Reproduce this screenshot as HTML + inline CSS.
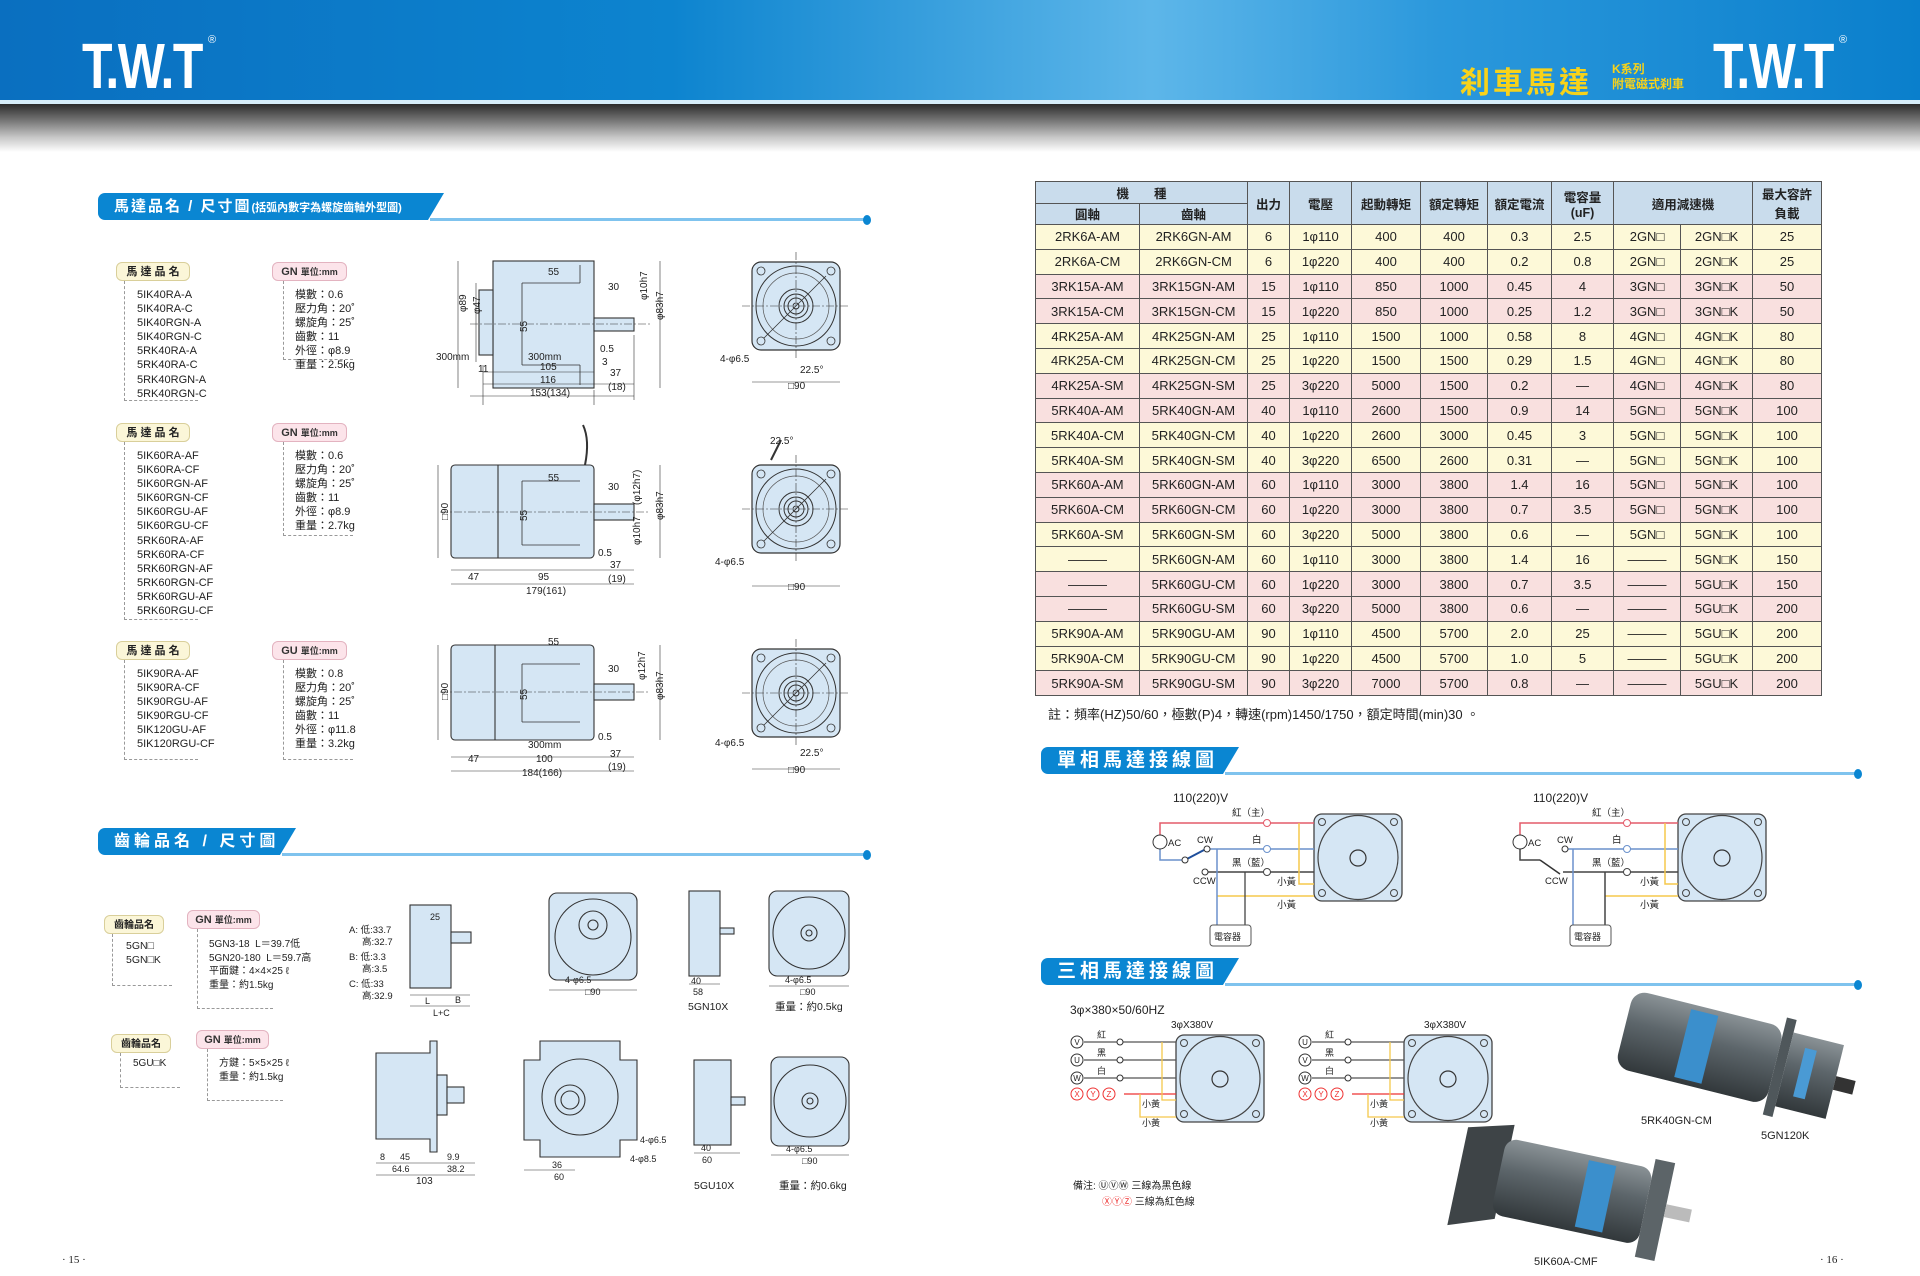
<!DOCTYPE html>
<html><head><meta charset="utf-8">
<style>
*{margin:0;padding:0;box-sizing:border-box}
body{width:1920px;height:1276px;position:relative;background:#fff;font-family:"Liberation Sans","Noto Sans CJK TC",sans-serif;overflow:hidden;color:#222}
.abs{position:absolute}
.banner{left:0;top:0;width:1920px;height:100px;background:linear-gradient(90deg,#0a6fc0 0%,#0d84cf 35%,#5db6e9 60%,#2b98dc 75%,#0a7fcc 100%)}
.bline{left:0;top:100px;width:1920px;height:4px;background:#d7eefa}
.grad{left:0;top:104px;width:1920px;height:48px;background:linear-gradient(180deg,#2c2c2c 0%,#777 35%,#c8c8c8 70%,#fff 100%)}
.logo{font-family:"Liberation Sans",sans-serif;font-weight:bold;color:#fff;font-size:64px;letter-spacing:-2px;transform:scaleX(0.78);transform-origin:left;line-height:64px}
.tag{border-radius:6px;font-size:11px;font-weight:bold;padding:2px 0;text-align:center;height:19px;line-height:15px}
.ty{background:#fbf6d8;border:1px solid #d9cf9a}
.tp{background:#fce4ea;border:1px solid #e3b3c0;color:#333}
.lst{font-size:11px;line-height:14.1px;color:#222}
.dash{border-left:1px dashed #999;border-bottom:1px dashed #999}
table{border-collapse:collapse;position:absolute;left:1035px;top:181px;width:786px;font-size:13px;table-layout:fixed}
td,th{border:1px solid #555;text-align:center;height:24.8px;padding:0;white-space:nowrap}
th{background:#c9dcec;font-weight:bold;font-size:12.5px;height:21.5px}
tr.y td{background:#fdf9d8}
tr.p td{background:#f9e0df}
.sec{height:27px;background:#0a86d2;color:#fff;font-weight:bold;font-size:17px;letter-spacing:4px;border-radius:7px 0 0 7px;padding-left:16px;line-height:27px}
.sec:after{content:"";position:absolute;right:-16px;top:0;border-left:16px solid #0a86d2;border-bottom:27px solid transparent}
.sl{height:3px;background:#7fc3ee}
.dot{width:8px;height:10px;border-radius:50%;background:#0a86d2}
</style></head><body>
<div class="abs banner"></div>
<div class="abs bline"></div>
<div class="abs grad"></div>
<div class="abs logo" style="left:82px;top:34px">T.W.T</div>
<div class="abs" style="left:208px;top:34px;color:#fff;font-size:11px">®</div>
<div class="abs logo" style="left:1713px;top:34px">T.W.T</div>
<div class="abs" style="left:1839px;top:34px;color:#fff;font-size:11px">®</div>
<div class="abs" style="left:1460px;top:58px;color:#f7d21a;font-size:30px;font-weight:bold;letter-spacing:3px">刹車馬達</div>
<div class="abs" style="left:1612px;top:62px;color:#f7d21a;font-size:12px;line-height:15px;font-weight:bold">K系列<br>附電磁式刹車</div>

<div class="abs sec" style="left:98px;top:193px;width:330px;font-size:15px;letter-spacing:2px">馬達品名 / 尺寸圖<span style="font-size:11px;letter-spacing:0">(括弧內數字為螺旋齒軸外型圖)</span></div>
<div class="abs sl" style="left:430px;top:218px;width:437px"></div>
<div class="abs dot" style="left:863px;top:215px"></div>
<div class="abs sec" style="left:98px;top:828px;width:182px;font-size:16px">齒輪品名 / 尺寸圖</div>
<div class="abs sl" style="left:282px;top:853px;width:585px"></div>
<div class="abs dot" style="left:863px;top:850px"></div>
<div class="abs sec" style="left:1041px;top:747px;width:182px;font-size:19px">單相馬達接線圖</div>
<div class="abs sl" style="left:1225px;top:772px;width:633px"></div>
<div class="abs dot" style="left:1854px;top:769px"></div>
<div class="abs sec" style="left:1041px;top:958px;width:182px;font-size:19px">三相馬達接線圖</div>
<div class="abs sl" style="left:1225px;top:983px;width:633px"></div>
<div class="abs dot" style="left:1854px;top:980px"></div>

<div class="abs tag ty" style="left:116px;top:262px;width:74px">馬 達 品 名</div>
<div class="abs tag tp" style="left:272px;top:262px;width:75px">GN <span style="font-size:9px">單位:mm</span></div>
<div class="abs dash" style="left:124px;top:281px;width:74px;height:120px"></div>
<div class="abs dash" style="left:283px;top:281px;width:70px;height:79px"></div>
<div class="abs lst" style="left:137px;top:288px">5IK40RA-A<br>5IK40RA-C<br>5IK40RGN-A<br>5IK40RGN-C<br>5RK40RA-A<br>5RK40RA-C<br>5RK40RGN-A<br>5RK40RGN-C</div>
<div class="abs lst" style="left:295px;top:288px">模數：0.6<br>壓力角：20˚<br>螺旋角：25˚<br>齒數：11<br>外徑：φ8.9<br>重量：2.5kg</div>

<div class="abs tag ty" style="left:116px;top:423px;width:74px">馬 達 品 名</div>
<div class="abs tag tp" style="left:272px;top:423px;width:75px">GN <span style="font-size:9px">單位:mm</span></div>
<div class="abs dash" style="left:124px;top:442px;width:74px;height:178px"></div>
<div class="abs dash" style="left:283px;top:442px;width:70px;height:94px"></div>
<div class="abs lst" style="left:137px;top:449px">5IK60RA-AF<br>5IK60RA-CF<br>5IK60RGN-AF<br>5IK60RGN-CF<br>5IK60RGU-AF<br>5IK60RGU-CF<br>5RK60RA-AF<br>5RK60RA-CF<br>5RK60RGN-AF<br>5RK60RGN-CF<br>5RK60RGU-AF<br>5RK60RGU-CF</div>
<div class="abs lst" style="left:295px;top:449px">模數：0.6<br>壓力角：20˚<br>螺旋角：25˚<br>齒數：11<br>外徑：φ8.9<br>重量：2.7kg</div>

<div class="abs tag ty" style="left:116px;top:641px;width:74px">馬 達 品 名</div>
<div class="abs tag tp" style="left:272px;top:641px;width:75px">GU <span style="font-size:9px">單位:mm</span></div>
<div class="abs dash" style="left:124px;top:660px;width:74px;height:100px"></div>
<div class="abs dash" style="left:283px;top:660px;width:70px;height:100px"></div>
<div class="abs lst" style="left:137px;top:667px">5IK90RA-AF<br>5IK90RA-CF<br>5IK90RGU-AF<br>5IK90RGU-CF<br>5IK120GU-AF<br>5IK120RGU-CF</div>
<div class="abs lst" style="left:295px;top:667px">模數：0.8<br>壓力角：20˚<br>螺旋角：25˚<br>齒數：11<br>外徑：φ11.8<br>重量：3.2kg</div>

<div class="abs tag ty" style="left:104px;top:915px;width:60px;font-size:10px">齒輪品名</div>
<div class="abs tag tp" style="left:187px;top:910px;width:73px">GN <span style="font-size:9px">單位:mm</span></div>
<div class="abs dash" style="left:112px;top:934px;width:60px;height:52px"></div>
<div class="abs dash" style="left:197px;top:929px;width:76px;height:80px"></div>
<div class="abs lst" style="left:126px;top:939px;font-size:10.5px">5GN□<br>5GN□K</div>
<div class="abs lst" style="left:209px;top:938px;font-size:10px;line-height:13.5px">5GN3-18 &nbsp;L＝39.7低<br>5GN20-180 &nbsp;L＝59.7高<br>平面鍵：4×4×25 ℓ<br>重量：約1.5kg</div>
<div class="abs tag ty" style="left:111px;top:1034px;width:60px;font-size:10px">齒輪品名</div>
<div class="abs tag tp" style="left:196px;top:1030px;width:73px">GN <span style="font-size:9px">單位:mm</span></div>
<div class="abs dash" style="left:120px;top:1053px;width:60px;height:35px"></div>
<div class="abs dash" style="left:207px;top:1049px;width:76px;height:52px"></div>
<div class="abs lst" style="left:133px;top:1057px;font-size:10px">5GU□K</div>
<div class="abs lst" style="left:219px;top:1057px;font-size:10px;line-height:14px">方鍵：5×5×25 ℓ<br>重量：約1.5kg</div>

<svg class="abs" style="left:0;top:0" width="1920" height="1276" font-family="Liberation Sans, Noto Sans CJK TC, sans-serif" font-size="10" fill="#222">
<defs>
<g id="fv">
 <rect x="-44" y="-44" width="88" height="88" rx="9" fill="#d5e6f4" stroke="#333" stroke-width="1.2"/>
 <circle r="40" fill="none" stroke="#333"/>
 <circle r="33" fill="none" stroke="#555" stroke-width=".7"/>
 <circle r="17" fill="none" stroke="#333"/>
 <circle r="12" fill="none" stroke="#333"/>
 <circle r="8" fill="none" stroke="#333"/>
 <circle r="3" fill="none" stroke="#333"/>
 <line x1="-54" y1="0" x2="54" y2="0" stroke="#333" stroke-width=".6" stroke-dasharray="8 2 2 2"/>
 <line x1="0" y1="-54" x2="0" y2="54" stroke="#333" stroke-width=".6" stroke-dasharray="8 2 2 2"/>
 <g stroke="#333" fill="none" stroke-width=".8">
  <circle cx="-35" cy="-35" r="4"/><circle cx="35" cy="-35" r="4"/><circle cx="-35" cy="35" r="4"/><circle cx="35" cy="35" r="4"/>
  <line x1="-32" y1="32" x2="30" y2="-30"/>
 </g>
</g>
<g id="wm">
 <rect x="0" y="0" width="88" height="87" rx="8" fill="#d5e6f4" stroke="#444" stroke-width="1.3"/>
 <ellipse cx="44" cy="43.5" rx="40" ry="42" fill="none" stroke="#444" stroke-width="1.2"/>
 <circle cx="44" cy="44" r="8" fill="none" stroke="#333" stroke-width="1.2"/>
 <g fill="none" stroke="#444"><circle cx="8" cy="8" r="3.5"/><circle cx="80" cy="8" r="3.5"/><circle cx="8" cy="79" r="3.5"/><circle cx="80" cy="79" r="3.5"/></g>
</g>
<linearGradient id="mg" x1="0" y1="0" x2="0" y2="1"><stop offset="0" stop-color="#8a9296"/><stop offset=".4" stop-color="#5d666b"/><stop offset="1" stop-color="#32383b"/></linearGradient>
</defs>

<g stroke="#333" stroke-width="1.1">
<rect x="493" y="261" width="101" height="127" fill="#d5e6f4"/>
<rect x="479" y="290" width="14" height="65" fill="#d5e6f4"/>
<rect x="594" y="318" width="40" height="13" fill="#d5e6f4"/>
<path d="M522 283 H580 M522 283 V365 M522 365 H580 M580 265V283 M580 365V385" fill="none" stroke-width=".8"/>
<line x1="470" y1="324" x2="650" y2="324" stroke-width=".6" stroke-dasharray="8 2 2 2"/>
<path d="M458 261V388 M476 283V362 M483 365V405 M594 390V405 M634 335V400 M660 261V388" fill="none" stroke-width=".6"/>
<path d="M483 372H594 M483 384H634 M470 396H634 M600 384H634" stroke-width=".6"/>
</g>
<g font-size="10">
<text x="548" y="275">55</text><text x="608" y="290">30</text><text x="540" y="370">105</text><text x="540" y="383">116</text><text x="530" y="396">153(134)</text>
<text x="610" y="376">37</text><text x="608" y="390">(18)</text><text x="600" y="352">0.5</text><text x="602" y="365">3</text>
<text x="436" y="360">300mm</text><text x="528" y="360">300mm</text><text x="478" y="372">11</text>
<text transform="translate(466 312) rotate(-90)">φ89</text><text transform="translate(480 314) rotate(-90)">φ47</text>
<text transform="translate(527 332) rotate(-90)">55</text>
<text transform="translate(647 300) rotate(-90)">φ10h7</text><text transform="translate(663 320) rotate(-90)">φ83h7</text>
</g>
<use href="#fv" x="796" y="306"/>
<text x="720" y="362">4-φ6.5</text><text x="800" y="373">22.5°</text><text x="788" y="389">□90</text>
<path d="M752 382H840" stroke="#333" stroke-width=".6"/>

<g stroke="#333" stroke-width="1.1">
<rect x="451" y="465" width="143" height="93" rx="4" fill="#d5e6f4"/>
<line x1="498" y1="465" x2="498" y2="558"/>
<rect x="594" y="504" width="40" height="16" fill="#d5e6f4"/>
<path d="M522 481 H580 M522 481 V545 M522 545 H580" fill="none" stroke-width=".8"/>
<line x1="440" y1="512" x2="650" y2="512" stroke-width=".6" stroke-dasharray="8 2 2 2"/>
<path d="M438 465V558 M451 570H634 M451 584H634 M660 465V558" fill="none" stroke-width=".6"/>
<path d="M585 465 Q590 440 583 425" fill="none" stroke-width="2"/>
</g>
<text x="468" y="580">47</text><text x="538" y="580">95</text><text x="526" y="594">179(161)</text><text x="610" y="568">37</text><text x="608" y="582">(19)</text>
<text x="598" y="556">0.5</text><text x="608" y="490">30</text><text x="548" y="481">55</text>
<text transform="translate(448 520) rotate(-90)">□90</text><text transform="translate(527 521) rotate(-90)">55</text>
<text transform="translate(640 505) rotate(-90)">(φ12h7)</text><text transform="translate(663 520) rotate(-90)">φ83h7</text><text transform="translate(640 545) rotate(-90)">φ10h7</text>
<use href="#fv" x="796" y="509"/>
<path d="M771 460 L781 440" stroke="#333" stroke-width="2"/>
<text x="770" y="444">22.5°</text><text x="715" y="565">4-φ6.5</text><text x="788" y="590">□90</text>
<path d="M752 586H840" stroke="#333" stroke-width=".6"/>

<g stroke="#333" stroke-width="1.1">
<rect x="451" y="645" width="143" height="95" rx="4" fill="#d5e6f4"/>
<line x1="495" y1="645" x2="495" y2="740"/>
<rect x="594" y="684" width="40" height="16" fill="#d5e6f4"/>
<path d="M522 664 H580 M522 664 V722 M522 722 H580" fill="none" stroke-width=".8"/>
<line x1="440" y1="692" x2="650" y2="692" stroke-width=".6" stroke-dasharray="8 2 2 2"/>
<path d="M438 645V740 M451 757H634 M451 771H634 M660 645V740" fill="none" stroke-width=".6"/>
</g>
<text x="548" y="645">55</text><text x="608" y="672">30</text><text x="468" y="762">47</text><text x="536" y="762">100</text><text x="522" y="776">184(166)</text>
<text x="610" y="757">37</text><text x="608" y="770">(19)</text><text x="528" y="748">300mm</text><text x="598" y="740">0.5</text>
<text transform="translate(448 700) rotate(-90)">□90</text><text transform="translate(527 700) rotate(-90)">55</text>
<text transform="translate(645 680) rotate(-90)">φ12h7</text><text transform="translate(663 700) rotate(-90)">φ83h7</text>
<use href="#fv" x="796" y="693"/>
<text x="715" y="746">4-φ6.5</text><text x="800" y="756">22.5°</text><text x="788" y="773">□90</text>
<path d="M752 769H840" stroke="#333" stroke-width=".6"/>

<g font-size="9.5">
<text x="349" y="933">A: 低:33.7</text><text x="362" y="945">高:32.7</text>
<text x="349" y="960">B: 低:3.3</text><text x="362" y="972">高:3.5</text>
<text x="349" y="987">C: 低:33</text><text x="362" y="999">高:32.9</text>
</g>
<g stroke="#333" stroke-width="1.1">
<rect x="410" y="905" width="41" height="83" fill="#d5e6f4"/>
<rect x="451" y="932" width="20" height="11" fill="#d5e6f4"/>
<path d="M410 995H470 M410 1006H470" stroke-width=".6"/>
<rect x="549" y="893" width="88" height="87" rx="8" fill="#d5e6f4"/>
<circle cx="593" cy="937" r="38" fill="none"/><circle cx="593" cy="925" r="14" fill="none"/><circle cx="593" cy="925" r="5" fill="none"/>
<path d="M549 990H637" stroke-width=".6"/>
<rect x="689" y="891" width="31" height="85" fill="#d5e6f4"/>
<rect x="720" y="928" width="14" height="6" fill="#d5e6f4"/>
<rect x="769" y="891" width="80" height="85" rx="8" fill="#d5e6f4"/>
<circle cx="809" cy="933" r="36" fill="none"/><circle cx="809" cy="933" r="8" fill="none"/><circle cx="809" cy="933" r="3" fill="none"/>
<path d="M769 986H849 M689 984H720" stroke-width=".6"/>
</g>
<text x="430" y="920" font-size="9">25</text><text x="455" y="1003" font-size="9">B</text><text x="425" y="1004" font-size="9">L</text><text x="433" y="1016" font-size="9">L+C</text>
<text x="565" y="983" font-size="9">4-φ6.5</text><text x="585" y="995" font-size="9">□90</text>
<text x="691" y="984" font-size="9">40</text><text x="693" y="995" font-size="9">58</text><text x="785" y="983" font-size="9">4-φ6.5</text><text x="800" y="995" font-size="9">□90</text>
<text x="688" y="1010" font-size="10.5">5GN10X</text><text x="775" y="1010" font-size="10.5">重量：約0.5kg</text>

<g stroke="#333" stroke-width="1.1">
<path d="M376 1053H430V1041H437V1152H430V1139H376Z" fill="#d5e6f4"/>
<rect x="437" y="1075" width="10" height="40" fill="#d5e6f4"/>
<rect x="447" y="1087" width="17" height="16" fill="#d5e6f4"/>
<path d="M540 1041H620V1060H637V1140H620V1157H540V1140H524V1060H540Z" fill="#d5e6f4"/>
<circle cx="580" cy="1097" r="38" fill="none"/><circle cx="570" cy="1100" r="15" fill="none"/><circle cx="570" cy="1100" r="9" fill="none"/>
<rect x="694" y="1060" width="37" height="85" fill="#d5e6f4"/>
<rect x="731" y="1097" width="14" height="8" fill="#d5e6f4"/>
<rect x="771" y="1057" width="78" height="89" rx="8" fill="#d5e6f4"/>
<circle cx="810" cy="1101" r="36" fill="none"/><circle cx="810" cy="1101" r="8" fill="none"/><circle cx="810" cy="1101" r="3" fill="none"/>
<path d="M376 1163H475 M376 1175H475 M524 1170H575 M694 1153H740 M771 1155H849" stroke-width=".6"/>
</g>
<g font-size="9"><text x="380" y="1160">8</text><text x="400" y="1160">45</text><text x="447" y="1160">9.9</text><text x="392" y="1172">64.6</text><text x="447" y="1172">38.2</text>
<text x="416" y="1184" font-size="10">103</text><text x="552" y="1168">36</text><text x="554" y="1180">60</text><text x="640" y="1143">4-φ6.5</text><text x="630" y="1162">4-φ8.5</text>
<text x="701" y="1151">40</text><text x="702" y="1163">60</text><text x="786" y="1152">4-φ6.5</text><text x="802" y="1164">□90</text></g>
<text x="694" y="1189" font-size="10.5">5GU10X</text><text x="779" y="1189" font-size="10.5">重量：約0.6kg</text>

<text x="62" y="1263" font-size="11" font-family="Liberation Serif">· 15 ·</text>
<text x="1820" y="1263" font-size="11" font-family="Liberation Serif">· 16 ·</text>

<g>
<text x="1173" y="802" font-size="12">110(220)V</text>
<use href="#wm" x="1314" y="814"/>
<g fill="none" stroke-width="1.5">
<path d="M1160 836V823H1314" stroke="#e45b6a"/>
<path d="M1207 849H1314 M1160 848V860H1185" stroke="#6a91cc"/>
<path d="M1205 872H1314" stroke="#444"/>
<path d="M1299 823V884H1314 M1217 896H1314" stroke="#f5c84c"/>
<path d="M1217 849V925" stroke="#6a91cc"/>
</g>
<path d="M1245 872V925" stroke="#444" stroke-width="1.3"/>
<path d="M1185 860L1204 850" stroke="#1f4f9c" stroke-width="2"/>
<circle cx="1160" cy="842" r="7" fill="#fff" stroke="#333"/>
<circle cx="1185" cy="860" r="3" fill="#fff" stroke="#333"/><circle cx="1207" cy="849" r="3" fill="#fff" stroke="#333"/><circle cx="1205" cy="872" r="3" fill="#fff" stroke="#333"/>
<circle cx="1267" cy="823" r="3.5" fill="#fff" stroke="#e45b6a"/><circle cx="1267" cy="849" r="3.5" fill="#fff" stroke="#6a91cc"/><circle cx="1267" cy="872" r="3.5" fill="#fff" stroke="#444"/>
<rect x="1210" y="925" width="41" height="21" rx="3" fill="#fff" stroke="#555"/>
<text x="1214" y="940" font-size="9">電容器</text>
<g font-size="9.5"><text x="1168" y="846">AC</text><text x="1197" y="843">CW</text><text x="1193" y="884">CCW</text><text x="1232" y="816">紅（主）</text><text x="1252" y="843">白</text><text x="1232" y="866">黑（藍）</text><text x="1277" y="885">小黃</text><text x="1277" y="908">小黃</text></g>
</g>
<g transform="translate(360 0)">
<text x="1173" y="802" font-size="12">110(220)V</text>
<use href="#wm" x="1318" y="814"/>
<g fill="none" stroke-width="1.5">
<path d="M1160 836V823H1318" stroke="#e45b6a"/>
<path d="M1207 849H1318" stroke="#6a91cc"/>
<path d="M1203 872H1318 M1160 848V860H1180" stroke="#444"/>
<path d="M1305 823V884H1318 M1245 896H1318" stroke="#f5c84c"/>
<path d="M1213 849V925" stroke="#6a91cc"/>
<path d="M1245 872V925" stroke="#444"/>
</g>
<path d="M1180 860L1200 874" stroke="#333" stroke-width="1.5"/>
<circle cx="1160" cy="842" r="7" fill="#fff" stroke="#333"/>
<circle cx="1205" cy="849" r="3" fill="#fff" stroke="#333"/>
<circle cx="1267" cy="823" r="3.5" fill="#fff" stroke="#e45b6a"/><circle cx="1267" cy="849" r="3.5" fill="#fff" stroke="#6a91cc"/><circle cx="1267" cy="872" r="3.5" fill="#fff" stroke="#444"/>
<rect x="1210" y="925" width="41" height="21" rx="3" fill="#fff" stroke="#555"/>
<text x="1214" y="940" font-size="9">電容器</text>
<g font-size="9.5"><text x="1168" y="846">AC</text><text x="1197" y="843">CW</text><text x="1185" y="884">CCW</text><text x="1232" y="816">紅（主）</text><text x="1252" y="843">白</text><text x="1232" y="866">黑（藍）</text><text x="1280" y="885">小黃</text><text x="1280" y="908">小黃</text></g>
</g>

<text x="1070" y="1014" font-size="12">3φ×380×50/60HZ</text>
<g>
<text x="1171" y="1028" font-size="10">3φX380V</text>
<use href="#wm" x="1176" y="1035"/>
<g fill="none" stroke-width="1.3"><path d="M1084 1042H1176 M1084 1060H1176 M1084 1078H1176" stroke="#555"/><path d="M1124 1094H1176" stroke="#e33"/><path d="M1162 1042V1100H1176 M1140 1094V1117H1176" stroke="#f5c84c"/></g>
<g fill="#fff" stroke="#333"><circle cx="1077" cy="1042" r="6"/><circle cx="1077" cy="1060" r="6"/><circle cx="1077" cy="1078" r="6"/><circle cx="1120" cy="1042" r="3"/><circle cx="1120" cy="1060" r="3"/><circle cx="1120" cy="1078" r="3"/></g>
<g fill="#fff" stroke="#e33"><circle cx="1077" cy="1094" r="6"/><circle cx="1093" cy="1094" r="6"/><circle cx="1109" cy="1094" r="6"/></g>
<g font-size="8" text-anchor="middle"><text x="1077" y="1045">V</text><text x="1077" y="1063">U</text><text x="1077" y="1081">W</text><text x="1077" y="1097" fill="#e33">X</text><text x="1093" y="1097" fill="#e33">Y</text><text x="1109" y="1097" fill="#e33">Z</text></g>
<g font-size="9"><text x="1097" y="1038">紅</text><text x="1097" y="1056">黑</text><text x="1097" y="1074">白</text><text x="1142" y="1107">小黃</text><text x="1142" y="1126">小黃</text></g>
</g>
<g transform="translate(228 0)">
<text x="1196" y="1028" font-size="10">3φX380V</text>
<use href="#wm" x="1176" y="1035"/>
<g fill="none" stroke-width="1.3"><path d="M1084 1042H1176 M1084 1060H1176 M1084 1078H1176" stroke="#555"/><path d="M1124 1094H1176" stroke="#e33"/><path d="M1162 1042V1100H1176 M1140 1094V1117H1176" stroke="#f5c84c"/></g>
<g fill="#fff" stroke="#333"><circle cx="1077" cy="1042" r="6"/><circle cx="1077" cy="1060" r="6"/><circle cx="1077" cy="1078" r="6"/><circle cx="1120" cy="1042" r="3"/><circle cx="1120" cy="1060" r="3"/><circle cx="1120" cy="1078" r="3"/></g>
<g fill="#fff" stroke="#e33"><circle cx="1077" cy="1094" r="6"/><circle cx="1093" cy="1094" r="6"/><circle cx="1109" cy="1094" r="6"/></g>
<g font-size="8" text-anchor="middle"><text x="1077" y="1045">U</text><text x="1077" y="1063">V</text><text x="1077" y="1081">W</text><text x="1077" y="1097" fill="#e33">X</text><text x="1093" y="1097" fill="#e33">Y</text><text x="1109" y="1097" fill="#e33">Z</text></g>
<g font-size="9"><text x="1097" y="1038">紅</text><text x="1097" y="1056">黑</text><text x="1097" y="1074">白</text><text x="1142" y="1107">小黃</text><text x="1142" y="1126">小黃</text></g>
</g>
<text x="1073" y="1189" font-size="10">備注: ⓊⓋⓌ 三線為黑色線</text>
<text x="1102" y="1205" font-size="10" fill="#e33">ⓍⓎⓏ <tspan fill="#222">三線為紅色線</tspan></text>

<g transform="rotate(14 1730 1060)">
<rect x="1620" y="1015" width="155" height="80" rx="14" fill="url(#mg)"/>
<rect x="1680" y="1020" width="28" height="70" fill="#3b8fcc"/>
<rect x="1775" y="1005" width="10" height="100" fill="#4f575b"/>
<rect x="1785" y="1018" width="52" height="76" fill="url(#mg)"/>
<rect x="1800" y="1030" width="12" height="50" fill="#4a9ad4"/>
<rect x="1837" y="1050" width="20" height="14" fill="#333"/>
</g>
<text x="1641" y="1124" font-size="11">5RK40GN-CM</text><text x="1761" y="1139" font-size="11">5GN120K</text>
<g transform="rotate(12 1560 1200)">
<path d="M1455 1148L1500 1136V1232L1455 1248Z" fill="#3e4447"/>
<rect x="1495" y="1150" width="150" height="78" rx="12" fill="url(#mg)"/>
<rect x="1580" y="1155" width="28" height="68" fill="#3b8fcc"/>
<rect x="1645" y="1140" width="20" height="100" fill="#5c6468"/>
<rect x="1665" y="1182" width="26" height="13" fill="#bbb"/>
</g>
<text x="1534" y="1265" font-size="11">5IK60A-CMF</text>
</svg>

<table>
<colgroup><col style="width:104px"><col style="width:108px"><col style="width:42px"><col style="width:62px"><col style="width:69px"><col style="width:67px"><col style="width:64px"><col style="width:62px"><col style="width:67px"><col style="width:72px"><col style="width:69px"></colgroup>
<tr><th colspan="2">機　　種</th><th rowspan="2">出力</th><th rowspan="2">電壓</th><th rowspan="2">起動轉矩</th><th rowspan="2">額定轉矩</th><th rowspan="2">額定電流</th><th rowspan="2">電容量<br>(uF)</th><th rowspan="2" colspan="2">適用減速機</th><th rowspan="2">最大容許<br>負載</th></tr>
<tr><th>圓軸</th><th>齒軸</th></tr>
<tr class="y"><td>2RK6A-AM</td><td>2RK6GN-AM</td><td>6</td><td>1φ110</td><td>400</td><td>400</td><td>0.3</td><td>2.5</td><td>2GN□</td><td>2GN□K</td><td>25</td></tr>
<tr class="y"><td>2RK6A-CM</td><td>2RK6GN-CM</td><td>6</td><td>1φ220</td><td>400</td><td>400</td><td>0.2</td><td>0.8</td><td>2GN□</td><td>2GN□K</td><td>25</td></tr>
<tr class="p"><td>3RK15A-AM</td><td>3RK15GN-AM</td><td>15</td><td>1φ110</td><td>850</td><td>1000</td><td>0.45</td><td>4</td><td>3GN□</td><td>3GN□K</td><td>50</td></tr>
<tr class="p"><td>3RK15A-CM</td><td>3RK15GN-CM</td><td>15</td><td>1φ220</td><td>850</td><td>1000</td><td>0.25</td><td>1.2</td><td>3GN□</td><td>3GN□K</td><td>50</td></tr>
<tr class="y"><td>4RK25A-AM</td><td>4RK25GN-AM</td><td>25</td><td>1φ110</td><td>1500</td><td>1000</td><td>0.58</td><td>8</td><td>4GN□</td><td>4GN□K</td><td>80</td></tr>
<tr class="y"><td>4RK25A-CM</td><td>4RK25GN-CM</td><td>25</td><td>1φ220</td><td>1500</td><td>1500</td><td>0.29</td><td>1.5</td><td>4GN□</td><td>4GN□K</td><td>80</td></tr>
<tr class="p"><td>4RK25A-SM</td><td>4RK25GN-SM</td><td>25</td><td>3φ220</td><td>5000</td><td>1500</td><td>0.2</td><td>—</td><td>4GN□</td><td>4GN□K</td><td>80</td></tr>
<tr class="p"><td>5RK40A-AM</td><td>5RK40GN-AM</td><td>40</td><td>1φ110</td><td>2600</td><td>1500</td><td>0.9</td><td>14</td><td>5GN□</td><td>5GN□K</td><td>100</td></tr>
<tr class="y"><td>5RK40A-CM</td><td>5RK40GN-CM</td><td>40</td><td>1φ220</td><td>2600</td><td>3000</td><td>0.45</td><td>3</td><td>5GN□</td><td>5GN□K</td><td>100</td></tr>
<tr class="y"><td>5RK40A-SM</td><td>5RK40GN-SM</td><td>40</td><td>3φ220</td><td>6500</td><td>2600</td><td>0.31</td><td>—</td><td>5GN□</td><td>5GN□K</td><td>100</td></tr>
<tr class="p"><td>5RK60A-AM</td><td>5RK60GN-AM</td><td>60</td><td>1φ110</td><td>3000</td><td>3800</td><td>1.4</td><td>16</td><td>5GN□</td><td>5GN□K</td><td>100</td></tr>
<tr class="p"><td>5RK60A-CM</td><td>5RK60GN-CM</td><td>60</td><td>1φ220</td><td>3000</td><td>3800</td><td>0.7</td><td>3.5</td><td>5GN□</td><td>5GN□K</td><td>100</td></tr>
<tr class="y"><td>5RK60A-SM</td><td>5RK60GN-SM</td><td>60</td><td>3φ220</td><td>5000</td><td>3800</td><td>0.6</td><td>—</td><td>5GN□</td><td>5GN□K</td><td>100</td></tr>
<tr class="y"><td>———</td><td>5RK60GN-AM</td><td>60</td><td>1φ110</td><td>3000</td><td>3800</td><td>1.4</td><td>16</td><td>———</td><td>5GN□K</td><td>150</td></tr>
<tr class="p"><td>———</td><td>5RK60GU-CM</td><td>60</td><td>1φ220</td><td>3000</td><td>3800</td><td>0.7</td><td>3.5</td><td>———</td><td>5GU□K</td><td>150</td></tr>
<tr class="p"><td>———</td><td>5RK60GU-SM</td><td>60</td><td>3φ220</td><td>5000</td><td>3800</td><td>0.6</td><td>—</td><td>———</td><td>5GU□K</td><td>200</td></tr>
<tr class="y"><td>5RK90A-AM</td><td>5RK90GU-AM</td><td>90</td><td>1φ110</td><td>4500</td><td>5700</td><td>2.0</td><td>25</td><td>———</td><td>5GU□K</td><td>200</td></tr>
<tr class="y"><td>5RK90A-CM</td><td>5RK90GU-CM</td><td>90</td><td>1φ220</td><td>4500</td><td>5700</td><td>1.0</td><td>5</td><td>———</td><td>5GU□K</td><td>200</td></tr>
<tr class="p"><td>5RK90A-SM</td><td>5RK90GU-SM</td><td>90</td><td>3φ220</td><td>7000</td><td>5700</td><td>0.8</td><td>—</td><td>———</td><td>5GU□K</td><td>200</td></tr>
</table>
<div class="abs" style="left:1048px;top:704px;font-size:13px">註：頻率(HZ)50/60，極數(P)4，轉速(rpm)1450/1750，額定時間(min)30 。</div>
</body></html>
